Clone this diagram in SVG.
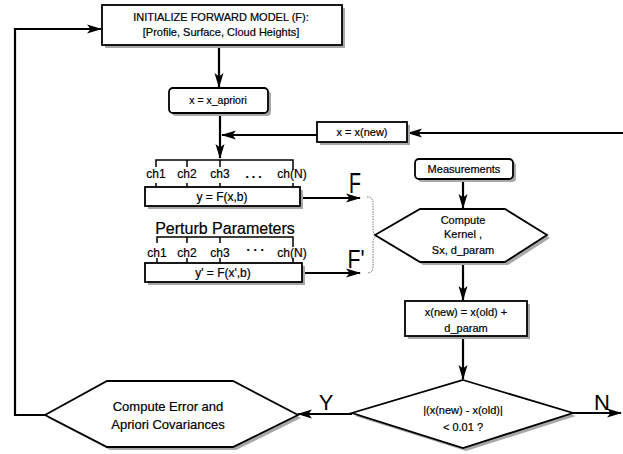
<svg xmlns="http://www.w3.org/2000/svg" width="623" height="454" viewBox="0 0 623 454">
<defs>
<style>
text{font-family:"Liberation Sans",Arial,sans-serif;fill:#000;text-anchor:middle;stroke:#000;stroke-width:0.2}
.box{fill:#fff;stroke:#000;stroke-width:1.8}
.sh{fill:#a8a8a8;stroke:none}
.t10{font-size:10.5px}
.t11{font-size:11px}
.t12{font-size:12px}
.t13{font-size:13px}
.big{font-size:22px;stroke-width:0}
.con{fill:none;stroke:#000;stroke-width:2.2}
.brk{fill:none;stroke:#000;stroke-width:1.5}
.brace{fill:none;stroke:#777;stroke-width:1;stroke-dasharray:1.5 1}
</style>
<marker id="ah" markerUnits="userSpaceOnUse" markerWidth="15" markerHeight="10" refX="14" refY="5" orient="auto">
<path d="M0,0.5 L15,5 L0,9.5 L3.5,5 Z" fill="#000"/>
</marker>
</defs>
<rect width="623" height="454" fill="#fff"/>

<g id="connectors">
<path class="con" d="M219,45 V87" marker-end="url(#ah)"/>
<path class="con" d="M220,113 V158" marker-end="url(#ah)"/>
<path class="con" d="M317,135 H222" marker-end="url(#ah)"/>
<path class="con" d="M623,133 H408" marker-end="url(#ah)"/>
<path class="con" d="M463,179 V208" marker-end="url(#ah)"/>
<path class="con" d="M463,262 V300" marker-end="url(#ah)"/>
<path class="con" d="M463,336 V379" marker-end="url(#ah)"/>
<path class="con" d="M352,414 H298" marker-end="url(#ah)"/>
<path class="con" d="M573,413 H621" marker-end="url(#ah)"/>
<path class="con" d="M45,415 H15 V29 H101" marker-end="url(#ah)"/>
<path class="con" d="M300,198 H360" marker-end="url(#ah)"/>
<path class="con" d="M302,273 H360" marker-end="url(#ah)"/>
<path class="brace" d="M367,197 Q373,197 373,203 L373,229 Q373,235 378,236 Q373,237 373,243 L373,267 Q373,273 367,273"/>
<text class="big" x="355" y="193" textLength="12" lengthAdjust="spacingAndGlyphs" style="font-size:30px">F</text>
<text class="big" x="356" y="268" textLength="17" lengthAdjust="spacingAndGlyphs" style="font-size:26px">F'</text>
<text class="big" x="326" y="410">Y</text>
<text class="big" x="602" y="410">N</text>
</g>

<g id="init">
<rect class="sh" x="105" y="8" width="240" height="40"/>
<rect class="box" x="102" y="5" width="240" height="40"/>
<text class="t11" x="221" y="21">INITIALIZE FORWARD MODEL (F):</text>
<text class="t11" x="221" y="36">[Profile, Surface, Cloud Heights]</text>
</g>

<g id="xapriori">
<rect class="sh" x="172" y="91" width="99" height="25" rx="4"/>
<rect class="box" x="169" y="88" width="99" height="25" rx="4"/>
<text class="t10" x="218" y="104">x = x_apriori</text>
</g>

<g id="xnew">
<rect class="sh" x="320" y="125" width="90" height="20"/>
<rect class="box" x="317" y="122" width="90" height="20"/>
<text class="t11" x="362" y="136">x = x(new)</text>
</g>

<g id="forward1">
<path class="brk" d="M156,167 V160 H293 V170 M187,160 V167 M220,160 V167 M156,183 V187 M187,183 V187 M220,183 V187 M293,183 V187"/>
<text class="t12" x="156" y="178">ch1</text>
<text class="t12" x="187" y="178">ch2</text>
<text class="t12" x="220" y="178">ch3</text>
<text class="t12" x="255" y="178" style="font-weight:bold;letter-spacing:3px">...</text>
<text class="t12" x="292" y="178">ch(N)</text>
<rect class="sh" x="148" y="190" width="155" height="19"/>
<rect class="box" x="145" y="187" width="155" height="19"/>
<text class="t12" x="222" y="201">y = F(x,b)</text>
</g>

<g id="perturb">
<text x="225" y="234" style="font-size:16px">Perturb Parameters</text>
</g>

<g id="forward2">
<path class="brk" d="M157,243 V237 H293 V247 M187,237 V243 M220,237 V243 M157,258 V263 M187,258 V263 M220,258 V263 M293,258 V263"/>
<text class="t12" x="157" y="257">ch1</text>
<text class="t12" x="187" y="257">ch2</text>
<text class="t12" x="220" y="257">ch3</text>
<text class="t12" x="257" y="254" style="font-weight:bold;letter-spacing:3px">···</text>
<text class="t12" x="292" y="257">ch(N)</text>
<rect class="sh" x="148" y="266" width="157" height="19"/>
<rect class="box" x="145" y="263" width="157" height="19"/>
<text class="t12" x="223" y="277">y' = F(x',b)</text>
</g>

<g id="measurements">
<rect class="sh" x="418" y="162" width="98" height="20" rx="4"/>
<rect class="box" x="415" y="159" width="98" height="20" rx="4"/>
<text class="t11" x="464" y="173">Measurements</text>
</g>

<g id="kernel">
<polygon class="sh" points="378,238 423,212 508,212 550,238 508,265 423,265"/>
<polygon class="box" points="375,235 420,209 505,209 547,235 505,262 420,262"/>
<text class="t11" x="463" y="224">Compute</text>
<text class="t11" x="463" y="238">Kernel ,</text>
<text class="t11" x="463" y="254">Sx, d_param</text>
</g>

<g id="update">
<rect class="sh" x="408" y="304" width="122" height="35"/>
<rect class="box" x="405" y="301" width="122" height="35"/>
<text class="t11" x="466" y="316">x(new) = x(old) +</text>
<text class="t11" x="466" y="332">d_param</text>
</g>

<g id="converge">
<polygon class="sh" points="466,383 576,416 466,451 355,416"/>
<polygon class="box" points="463,380 573,413 463,448 352,413"/>
<text class="t11" x="463" y="414">|(x(new)  - x(old)|</text>
<text class="t11" x="463" y="431">&lt; 0.01 ?</text>
</g>

<g id="covariances">
<polygon class="sh" points="48,418 110,384 236,384 301,418 236,450 110,450"/>
<polygon class="box" points="45,415 107,381 233,381 298,415 233,447 107,447"/>
<text class="t13" x="168" y="411">Compute Error and</text>
<text class="t13" x="168" y="429">Apriori Covariances</text>
</g>
</svg>
